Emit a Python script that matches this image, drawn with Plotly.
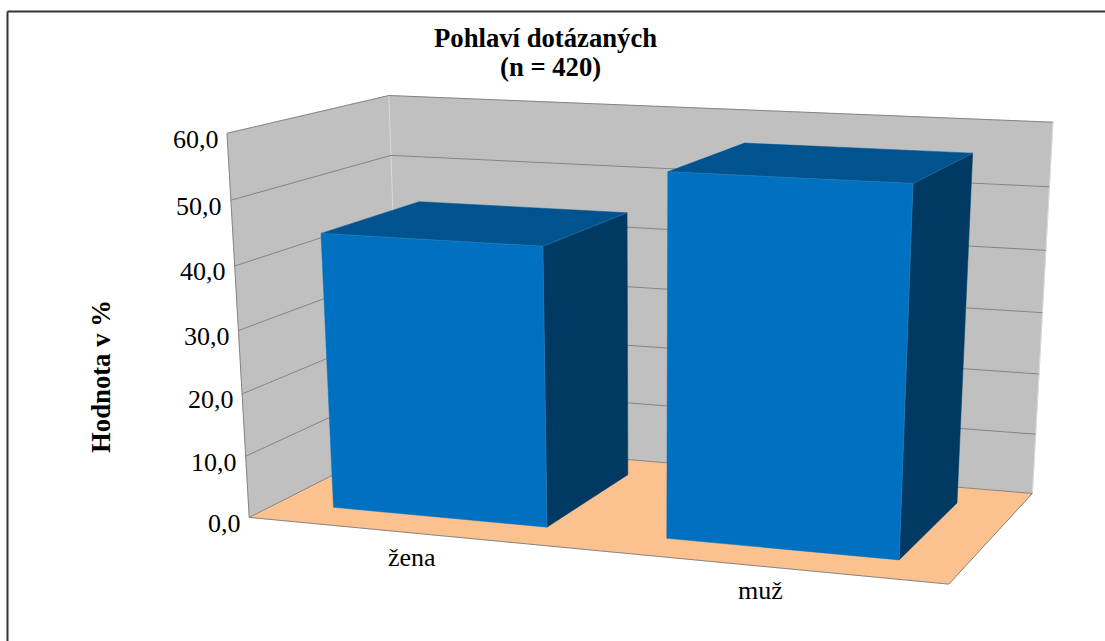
import numpy as np
import plotly.graph_objects as go

# --- chart data ---
categories = ["žena", "muž"]
values = [44.0, 56.0]
value_ticks = [0, 10, 20, 30, 40, 50, 60]
tick_labels = ["0,0", "10,0", "20,0", "30,0", "40,0", "50,0", "60,0"]
title_lines = ["Pohlaví dotázaných", "(n = 420)"]
axis_title = "Hodnota v %"

# --- 3D chart box: category axis 0..n, depth 0..1, value axis 0..60 ---
BAR_CENTER = 0.496
BAR_HALF = 0.325
DEPTH_FRONT, DEPTH_BACK = 0.18, 0.82
PROJECTION = np.array([
    [310.498, 199.61, -0.569674, 249.231],
    [9.15964, -24.3481, -6.51972, 517.398],
    [-0.0414262, 0.119157, -0.000879375, 1.0],
])

C_WALL, C_FLOOR, C_GRID = "#c0c0c0", "#fbc28f", "#858585"
C_FRONT, C_TOP, C_SIDE = "#0070c0", "#00538f", "#003a63"
FONT = "Liberation Serif"


def proj(points):
    pts = np.array([[u, d, v, 1.0] for u, d, v in points]).T
    h = PROJECTION @ pts
    return (h[0] / h[2]).tolist(), (h[1] / h[2]).tolist()


def face(fig, corners, fill, line=None, width=1):
    x, y = proj(corners + corners[:1])
    fig.add_trace(go.Scatter(x=x, y=y, mode="lines", fill="toself", fillcolor=fill,
                             line=dict(color=line or fill, width=width if line else 0.5),
                             hoverinfo="skip", showlegend=False))


def edge(fig, corners, color=C_GRID, width=1):
    x, y = proj(corners)
    fig.add_trace(go.Scatter(x=x, y=y, mode="lines", line=dict(color=color, width=width),
                             hoverinfo="skip", showlegend=False))


fig = go.Figure()
n = len(categories)
vmax = value_ticks[-1]

# walls and floor
face(fig, [(0, 0, 0), (0, 1, 0), (0, 1, vmax), (0, 0, vmax)], C_WALL)
face(fig, [(0, 1, 0), (n, 1, 0), (n, 1, vmax), (0, 1, vmax)], C_WALL)
face(fig, [(0, 0, 0), (n, 0, 0), (n, 1, 0), (0, 1, 0)], C_FLOOR)
edge(fig, [(0, 1, 0), (0, 1, vmax)], "#d9d9d9")
edge(fig, [(n, 1, 0), (n, 1, vmax)], "#d9d9d9")
edge(fig, [(0, 0, 0), (0, 0, vmax)])
edge(fig, [(0, 0, 0), (n, 0, 0), (n, 1, 0)])
edge(fig, [(0, 0, 0), (0, 1, 0), (n, 1, 0)])

# gridlines along both walls
for t in value_ticks[1:]:
    edge(fig, [(0, 0, t), (0, 1, t), (n, 1, t)])

# bars
for i, v in enumerate(values):
    a, b = i + BAR_CENTER - BAR_HALF, i + BAR_CENTER + BAR_HALF
    f, k = DEPTH_FRONT, DEPTH_BACK
    face(fig, [(a, f, v), (b, f, v), (b, k, v), (a, k, v)], C_TOP)
    face(fig, [(b, f, 0), (b, k, 0), (b, k, v), (b, f, v)], C_SIDE)
    face(fig, [(a, f, 0), (b, f, 0), (b, f, v), (a, f, v)], C_FRONT)
    edge(fig, [(a, f, v), (b, f, v), (b, k, v)], "#2f7fb8", 0.6)
    edge(fig, [(b, f, v), (b, f, 0)], "#2f7fb8", 0.6)

annotations = []
# value axis labels
for t, lab in zip(value_ticks, tick_labels):
    x, y = proj([(0, 0, t)])
    annotations.append(dict(x=x[0], y=y[0], text=lab, xanchor="right", yanchor="middle",
                            xshift=-6.5, yshift=-6, showarrow=False,
                            font=dict(family=FONT, size=26, color="#000")))
# category labels
for i, lab in enumerate(categories):
    x, y = proj([(i + 0.5, 0, 0)])
    annotations.append(dict(x=x[0], y=y[0], text=lab, xanchor="center", yanchor="middle",
                            xshift=-1.5, yshift=-24.5, showarrow=False,
                            font=dict(family=FONT, size=26, color="#000")))
# titles
for lab, tx, ty in zip(title_lines, [545, 550], [38, 67]):
    annotations.append(dict(x=tx, y=ty, text="<b>" + lab + "</b>", xanchor="center",
                            yanchor="middle", showarrow=False,
                            font=dict(family=FONT, size=26.7, color="#000")))
annotations.append(dict(x=101.5, y=376.4, text="<b>" + axis_title + "</b>", textangle=-90,
                        xanchor="center", yanchor="middle", showarrow=False,
                        font=dict(family=FONT, size=26.7, color="#000")))

fig.update_layout(
    width=1105, height=641, margin=dict(l=0, r=0, t=0, b=0),
    paper_bgcolor="#ffffff", plot_bgcolor="#ffffff", showlegend=False,
    xaxis=dict(range=[0, 1105], visible=False, fixedrange=True),
    yaxis=dict(range=[641, 0], visible=False, fixedrange=True),
    annotations=annotations,
    shapes=[
        dict(type="line", x0=7.5, x1=7.5, y0=11.5, y1=641, line=dict(color="#333333", width=2)),
        dict(type="line", x0=7.5, x1=1105, y0=11.5, y1=11.5, line=dict(color="#333333", width=2)),
    ],
)
fig.write_html("out.html", post_script="document.body.style.margin='0';document.body.style.overflow='hidden';",
               config={"displayModeBar": False})
